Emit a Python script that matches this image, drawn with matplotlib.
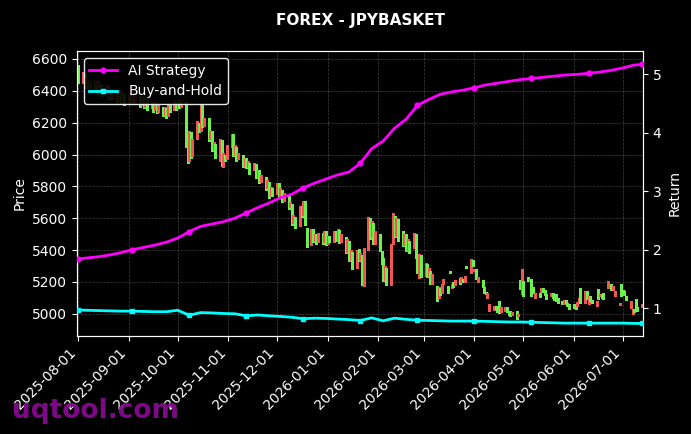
import matplotlib
matplotlib.use("Agg")
import matplotlib.pyplot as plt
import matplotlib.dates as mdates
import pandas as pd
import numpy as np

# ---------------- data ----------------
candle_start = "2025-08-01"
candle_end = "2026-07-13"

open_ = [
    6560,
    6450, 6510, 6430, 6470, 6410,
    6460, 6400, 6460, 6390, 6440,
    6380, 6430, 6360, 6410, 6350,
    6400, 6340, 6400, 6330, 6380,
    6320, 6380, 6330, 6390, 6340,
    6370, 6310, 6360, 6300, 6340,
    6290, 6320, 6280, 6320, 6270,
    6300, 6250, 6290, 6240, 6310,
    6280, 6330, 6290, 6340, 6300,
    6330, 6060, 5960, 6140, 5990,
    6100, 6200, 6150, 6316, 6180,
    6228, 6100, 6146, 6030, 6064,
    5960, 6090, 5920, 6000, 5970,
    6050, 6130, 6000, 6050, 5970,
    6000, 5930, 5976, 5920, 5950,
    5900, 5940, 5860, 5900, 5830,
    5860, 5790, 5830, 5740, 5790,
    5750, 5820, 5740, 5775, 5710,
    5750, 5670, 5690, 5570, 5605,
    5550, 5680, 5620, 5710, 5540,
    5430, 5530, 5460, 5500, 5450,
    5510, 5450, 5520, 5440, 5490,
    5450, 5520, 5460, 5525, 5450,
    5480, 5390, 5460, 5340, 5390,
    5290, 5410, 5340, 5370, 5176,
    5400, 5600, 5480, 5570, 5440,
    5500, 5397, 5353, 5210, 5290,
    5180, 5441, 5617, 5490, 5598,
    5523, 5430, 5500, 5400, 5460,
    5416, 5500, 5353, 5227, 5370,
    5240, 5315, 5240, 5271, 5190,
    5176, 5100, 5164, 5130, 5189,
    5176, 5271, 5163, 5200, 5180,
    5227, 5200, 5220, 5200, 5302,
    5258, 5340, 5271, 5283, 5200,
    5210, 5170, 5140, 5100, 5019,
    5025, 5050, 5040, 5082, 5010,
    5019, 5040, 5010, 5020, 4990,
    5019, 4987, 5214, 5126, 5208,
    5233, 5205, 5220, 5170, 5101,
    5132, 5140, 5164, 5150, 5126,
    5110, 5132, 5110, 5126, 5100,
    5080, 5063, 5088, 5070, 5063,
    5060, 5045, 5050, 5080, 5164,
    5070, 5145, 5063, 5113, 5090,
    5050, 5157, 5110, 5125, 5132,
    5164, 5160, 5185, 5150, 5113,
    5055, 5189, 5150, 5145, 5110,
    5038, 5000, 5032, 5095, 5040,
    5040,
]

close_ = [
    6450,
    6520, 6420, 6480, 6400, 6460,
    6390, 6470, 6380, 6450, 6370,
    6440, 6350, 6420, 6340, 6400,
    6330, 6410, 6320, 6390, 6310,
    6390, 6320, 6400, 6330, 6380,
    6300, 6370, 6290, 6350, 6280,
    6330, 6270, 6330, 6260, 6310,
    6240, 6300, 6230, 6320, 6270,
    6340, 6280, 6350, 6290, 6340,
    6050, 5950, 6150, 5980, 6100,
    6210, 6140, 6310, 6170, 6230,
    6083, 6150, 6020, 6080, 5976,
    6096, 5930, 6010, 5960, 6060,
    6130, 5990, 6060, 5960, 6010,
    5920, 5980, 5913, 5960, 5880,
    5950, 5850, 5900, 5820, 5870,
    5780, 5838, 5730, 5795, 5740,
    5820, 5730, 5790, 5700, 5760,
    5660, 5700, 5560, 5620, 5540,
    5680, 5610, 5710, 5560, 5420,
    5535, 5450, 5500, 5440, 5510,
    5440, 5523, 5430, 5490, 5450,
    5523, 5460, 5530, 5447, 5500,
    5380, 5472, 5330, 5400, 5283,
    5400, 5330, 5380, 5180, 5416,
    5605, 5470, 5586, 5441, 5520,
    5397, 5315, 5208, 5300, 5180,
    5441, 5630, 5480, 5600, 5460,
    5428, 5500, 5397, 5470, 5380,
    5510, 5353, 5258, 5378, 5230,
    5320, 5230, 5290, 5189, 5250,
    5082, 5170, 5120, 5190, 5220,
    5132, 5255, 5189, 5170, 5210,
    5189, 5230, 5200, 5240, 5290,
    5346, 5300, 5280, 5220, 5230,
    5170, 5132, 5125, 5130, 5063,
    5050, 5030, 5010, 5006, 5040,
    5040, 5010, 4990, 4985, 5010,
    4968, 5000, 5157, 5283, 5113,
    5205, 5220, 5113, 5130, 5132,
    5105, 5164, 5140, 5120, 5095,
    5132, 5100, 5090, 5082, 5070,
    5060, 5088, 5070, 5050, 5032,
    5035, 5030, 5075, 5100, 5070,
    5145, 5095, 5113, 5082, 5070,
    5082, 5095, 5125, 5100, 5095,
    5208, 5185, 5150, 5176, 5145,
    5070, 5113, 5130, 5120, 5090,
    5082, 5032, 5010, 5038, 5020,
    5060,
]

line_first = "2025-08-01"
line_weekly_start = "2025-08-06"
line_weekly_end = "2026-07-08"
line_last = "2026-07-13"

ai_strategy = [
    1.84, 1.86, 1.88, 1.91, 1.95, 2.00, 2.04, 2.08, 2.13, 2.20,
    2.31, 2.40, 2.44, 2.48, 2.54, 2.63, 2.72, 2.80, 2.89, 2.95,
    3.06, 3.14, 3.21, 3.28, 3.33, 3.48, 3.73, 3.86, 4.08, 4.23,
    4.47, 4.57, 4.66, 4.70, 4.73, 4.77, 4.82, 4.85, 4.88, 4.91,
    4.93, 4.95, 4.97, 4.99, 5.00, 5.02, 5.04, 5.07, 5.11, 5.16,
    5.17,
]

buy_and_hold = [
    0.97, 0.965, 0.96, 0.955, 0.95, 0.95, 0.945, 0.94, 0.94, 0.965,
    0.88, 0.925, 0.92, 0.91, 0.905, 0.87, 0.885, 0.87, 0.86, 0.845,
    0.82, 0.83, 0.825, 0.815, 0.805, 0.79, 0.835, 0.785, 0.83, 0.81,
    0.795, 0.79, 0.785, 0.78, 0.78, 0.78, 0.775, 0.77, 0.765, 0.765,
    0.76, 0.755, 0.75, 0.745, 0.745, 0.745, 0.745, 0.745, 0.745, 0.74,
    0.74,
]

price_ticks = [5000, 5200, 5400, 5600, 5800, 6000, 6200, 6400, 6600]
return_ticks = [1, 2, 3, 4, 5]

# ---------------- build ----------------
cdates = pd.bdate_range(candle_start, candle_end)
n = min(len(cdates), len(open_), len(close_))
cdates = cdates[:n]
o = np.array(open_[:n], dtype=float)
c = np.array(close_[:n], dtype=float)
up = c >= o
cols = np.where(up, "#f25552", "#6cf04e")

ldates = pd.DatetimeIndex([pd.Timestamp(line_first)]
                          + list(pd.date_range(line_weekly_start, line_weekly_end, freq="7D"))
                          + [pd.Timestamp(line_last)])

fig = plt.figure(figsize=(6.91, 4.34), dpi=100, facecolor="black")
ax = fig.add_axes([77 / 691, 1 - 336 / 434, (643 - 77) / 691, (336 - 51) / 434])
ax.set_facecolor("black")

ax.vlines(mdates.date2num(cdates), np.minimum(o, c), np.maximum(o, c),
          colors=cols, linewidth=1.0, antialiased=False, zorder=2)

ax.set_ylim(4861, 6650)
ax.set_yticks(price_ticks)
x0 = mdates.date2num(pd.Timestamp(candle_start)) - 0.8
x1 = mdates.date2num(pd.Timestamp(candle_end)) + 0.4
ax.set_xlim(x0, x1)
ax.xaxis.set_major_locator(mdates.MonthLocator())
ax.xaxis.set_major_formatter(mdates.DateFormatter("%Y-%m-%d"))
for lab in ax.get_xticklabels():
    lab.set_rotation(45)
    lab.set_ha("right")

ax.grid(True, color="#808080", linestyle="--", linewidth=0.5, alpha=0.5)
ax.set_ylabel("Price", color="white", fontsize=10)
ax.tick_params(colors="white", labelsize=10)
for s in ax.spines.values():
    s.set_color("white")

ax2 = ax.twinx()
ax2.plot(mdates.date2num(ldates), ai_strategy, color="#ff00ff", lw=2, marker="o",
         markersize=3.5, markevery=5, label="AI Strategy", zorder=3)
ax2.plot(mdates.date2num(ldates), buy_and_hold, color="#00ffff", lw=2, marker="s",
         markersize=3.5, markevery=5, label="Buy-and-Hold", zorder=3)
ax2.set_ylim(0.525, 5.40)
ax2.set_yticks(return_ticks)
ax2.set_xlim(x0, x1)
ax2.set_ylabel("Return", color="white", fontsize=10)
ax2.tick_params(colors="white", labelsize=10)
for s in ax2.spines.values():
    s.set_color("white")

leg = ax2.legend(loc="upper left", facecolor="black", edgecolor="white",
                 labelcolor="white", fontsize=10, framealpha=0.9)

ax.set_title("FOREX - JPYBASKET", color="white", fontsize=11, fontweight="bold", pad=19)

fig.text(0.017, 0.037, "uqtool.com", color="#860a8e", fontsize=19,
         fontweight="bold", alpha=0.95, ha="left", va="baseline", zorder=10)

fig.savefig("out.png", dpi=100, facecolor="black")
